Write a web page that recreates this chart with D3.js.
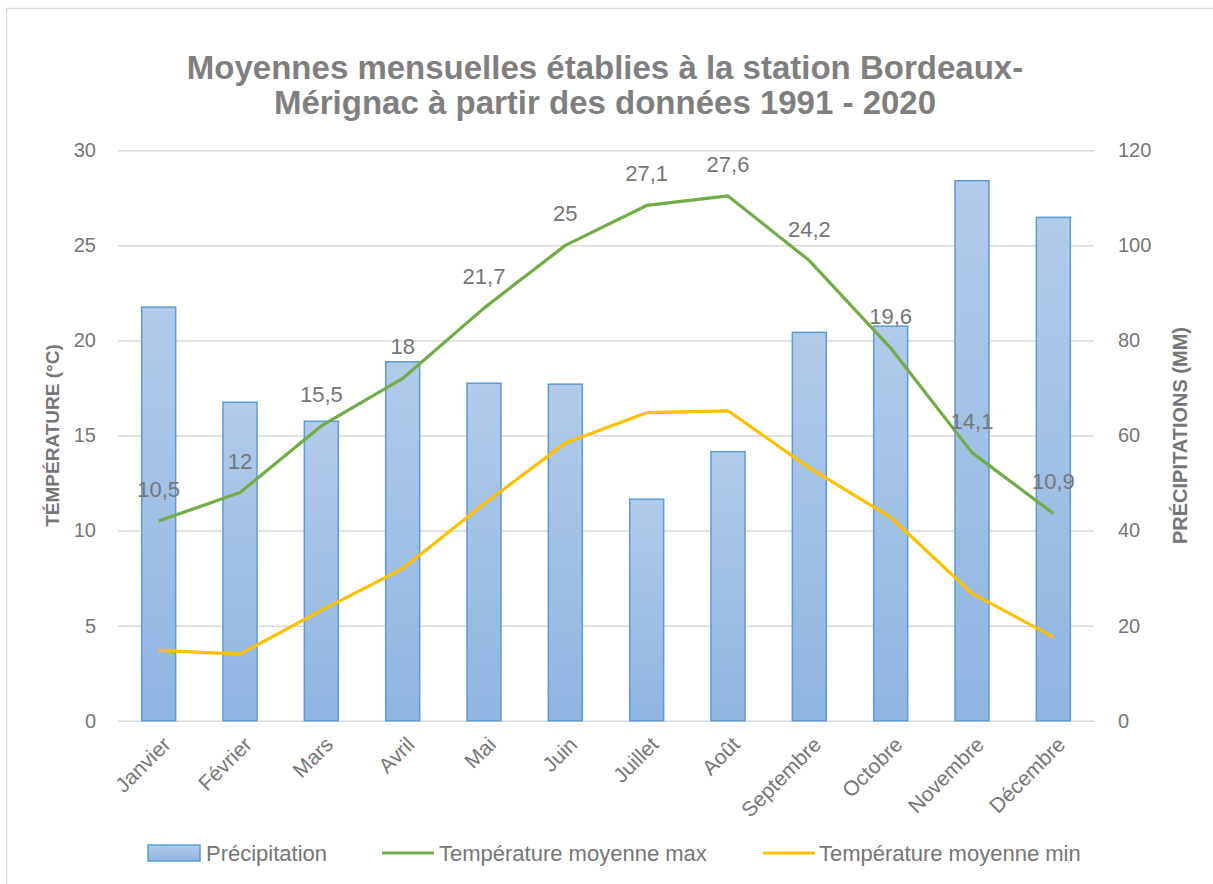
<!DOCTYPE html>
<html>
<head>
<meta charset="utf-8">
<script src="https://cdn.jsdelivr.net/npm/d3@7"></script>
<style>
  body { margin: 0; background: #fff; }
  svg text { font-family: "Liberation Sans", Arial, sans-serif; }
</style>
</head>
<body>
<div id="chart"></div>
<script>
// data
const months = ["Janvier", "Février", "Mars", "Avril", "Mai", "Juin", "Juillet", "Août", "Septembre", "Octobre", "Novembre", "Décembre"];
const precipitation = [87, 67, 63, 75.5, 71, 70.8, 46.6, 56.6, 81.7, 83, 113.6, 105.9];
const tempMax = [10.5, 12, 15.5, 18, 21.7, 25, 27.1, 27.6, 24.2, 19.6, 14.1, 10.9];
const tempMin = [3.7, 3.5, 5.8, 8.0, 11.4, 14.6, 16.2, 16.3, 13.3, 10.7, 6.7, 4.4];
const tempTicks = [0, 5, 10, 15, 20, 25, 30];
const precipTicks = [0, 20, 40, 60, 80, 100, 120];

const svgWidth = 1213;
const svgHeight = 884;
const chartMargin = { top: 150.3, right: 119, bottom: 163.3, left: 118 };
const chartWidth = svgWidth - chartMargin.left - chartMargin.right;
const chartHeight = svgHeight - chartMargin.top - chartMargin.bottom;

const textGrey = "#767676";

const svg = d3.select("#chart")
  .append("svg")
  .attr("width", svgWidth)
  .attr("height", svgHeight);

// outer frame (only top / left edges are visible in the picture)
svg.append("rect")
  .attr("x", 6.5).attr("y", 8.5)
  .attr("width", svgWidth + 20).attr("height", svgHeight + 20)
  .attr("fill", "none")
  .attr("stroke", "#d9d9d9")
  .attr("stroke-width", 1.5);

// gradient for bars
const defs = svg.append("defs");
const grad = defs.append("linearGradient")
  .attr("id", "barGrad")
  .attr("x1", 0).attr("y1", 0).attr("x2", 0).attr("y2", 1);
grad.append("stop").attr("offset", "0%").attr("stop-color", "#b1cbea");
grad.append("stop").attr("offset", "100%").attr("stop-color", "#90b5e1");

// title
const title = svg.append("text")
  .attr("text-anchor", "middle")
  .attr("fill", "#7f7f7f")
  .style("font-weight", "bold")
  .style("font-size", "33px");
title.append("tspan").attr("x", 605).attr("y", 79).text("Moyennes mensuelles établies à la station Bordeaux-");
title.append("tspan").attr("x", 605).attr("y", 114).text("Mérignac à partir des données 1991 - 2020");

const chartGroup = svg.append("g")
  .attr("transform", `translate(${chartMargin.left}, ${chartMargin.top})`);

const xBandScale = d3.scaleBand()
  .domain(months)
  .range([0, chartWidth])
  .paddingInner(0.582)
  .paddingOuter(0.291);

const yTemp = d3.scaleLinear().domain([0, 30]).range([chartHeight, 0]);
const yPrecip = d3.scaleLinear().domain([0, 120]).range([chartHeight, 0]);

const cx = d => xBandScale(d) + xBandScale.bandwidth() / 2;

// gridlines
const grid = chartGroup.append("g")
  .call(d3.axisLeft(yTemp).tickValues(tempTicks).tickSize(-chartWidth).tickFormat(""));
grid.select(".domain").remove();
grid.selectAll("line").attr("stroke", "#d9d9d9").attr("stroke-width", 1.5);

// left axis labels
const leftAxis = chartGroup.append("g")
  .call(d3.axisLeft(yTemp).tickValues(tempTicks).tickSize(0).tickPadding(22));
leftAxis.select(".domain").remove();
leftAxis.selectAll("text")
  .attr("fill", textGrey)
  .style("font-size", "20px")
  .style("font-family", "'Liberation Sans', Arial, sans-serif");

// right axis labels
const rightAxis = chartGroup.append("g")
  .attr("transform", `translate(${chartWidth}, 0)`)
  .call(d3.axisRight(yPrecip).tickValues(precipTicks).tickSize(0).tickPadding(24));
rightAxis.select(".domain").remove();
rightAxis.selectAll("text")
  .attr("fill", textGrey)
  .style("font-size", "20px")
  .style("font-family", "'Liberation Sans', Arial, sans-serif");

// bottom axis with rotated month names
const bottomAxis = chartGroup.append("g")
  .attr("transform", `translate(0, ${chartHeight})`)
  .call(d3.axisBottom(xBandScale).tickSize(0).tickFormat(""));
bottomAxis.select(".domain").remove();

chartGroup.selectAll(".month-label")
  .data(months)
  .enter()
  .append("text")
  .attr("class", "month-label")
  .attr("text-anchor", "end")
  .attr("fill", textGrey)
  .style("font-size", "21px")
  .attr("transform", d => `translate(${cx(d) + 8}, ${chartHeight + 20}) rotate(-45)`)
  .attr("dy", "0.35em")
  .text(d => d);

// bars
const barData = months.map((m, i) => ({ name: m, value: precipitation[i] }));
chartGroup.selectAll(".bar")
  .data(barData)
  .enter()
  .append("rect")
  .attr("class", "bar")
  .attr("fill", "url(#barGrad)")
  .attr("stroke", "#5b9bd5")
  .attr("stroke-width", 1.5)
  .attr("x", d => xBandScale(d.name))
  .attr("y", d => yPrecip(d.value))
  .attr("width", xBandScale.bandwidth())
  .attr("height", d => chartHeight - yPrecip(d.value));

// lines
const lineTemp = d3.line().x((d, i) => cx(months[i])).y(d => yTemp(d));
chartGroup.append("path")
  .datum(tempMax)
  .attr("fill", "none")
  .attr("stroke", "#70ad47")
  .attr("stroke-width", 3.2)
  .attr("stroke-linejoin", "round")
  .attr("d", lineTemp);

chartGroup.append("path")
  .datum(tempMin)
  .attr("fill", "none")
  .attr("stroke", "#ffc000")
  .attr("stroke-width", 3.2)
  .attr("stroke-linejoin", "round")
  .attr("d", lineTemp);

// data labels for max temperature
const fmt = d3.formatLocale({ decimal: ",", thousands: " ", grouping: [3], currency: ["", "€"] }).format("~r");
chartGroup.selectAll(".max-label")
  .data(tempMax)
  .enter()
  .append("text")
  .attr("class", "max-label")
  .attr("text-anchor", "middle")
  .attr("fill", textGrey)
  .style("font-size", "22px")
  .attr("x", (d, i) => cx(months[i]))
  .attr("y", d => yTemp(d) - 24)
  .text(d => fmt(d));

// axis titles
svg.append("text")
  .attr("transform", `translate(52, ${chartMargin.top + chartHeight / 2}) rotate(-90)`)
  .attr("text-anchor", "middle")
  .attr("dy", "0.35em")
  .attr("fill", textGrey)
  .style("font-weight", "bold")
  .style("font-size", "19px")
  .text("TÉMPÉRATURE (°C)");

svg.append("text")
  .attr("transform", `translate(1180, ${chartMargin.top + chartHeight / 2}) rotate(-90)`)
  .attr("text-anchor", "middle")
  .attr("dy", "0.35em")
  .attr("fill", textGrey)
  .style("font-weight", "bold")
  .style("font-size", "20px")
  .text("PRÉCIPITATIONS (MM)");

// legend
const legendY = 853;
const legend = svg.append("g");
legend.append("rect")
  .attr("x", 148).attr("y", legendY - 8)
  .attr("width", 52).attr("height", 16)
  .attr("fill", "url(#barGrad)")
  .attr("stroke", "#5b9bd5")
  .attr("stroke-width", 1.5);
legend.append("line")
  .attr("x1", 382).attr("x2", 434).attr("y1", legendY).attr("y2", legendY)
  .attr("stroke", "#70ad47").attr("stroke-width", 3.2);
legend.append("line")
  .attr("x1", 763).attr("x2", 815).attr("y1", legendY).attr("y2", legendY)
  .attr("stroke", "#ffc000").attr("stroke-width", 3.2);

const legendItems = [
  { x: 206, label: "Précipitation" },
  { x: 439, label: "Température moyenne max" },
  { x: 819, label: "Température moyenne min" }
];
legend.selectAll(".legend-text")
  .data(legendItems)
  .enter()
  .append("text")
  .attr("class", "legend-text")
  .attr("x", d => d.x)
  .attr("y", legendY)
  .attr("dy", "0.35em")
  .attr("fill", textGrey)
  .style("font-size", "22px")
  .text(d => d.label);
</script>
</body>
</html>
